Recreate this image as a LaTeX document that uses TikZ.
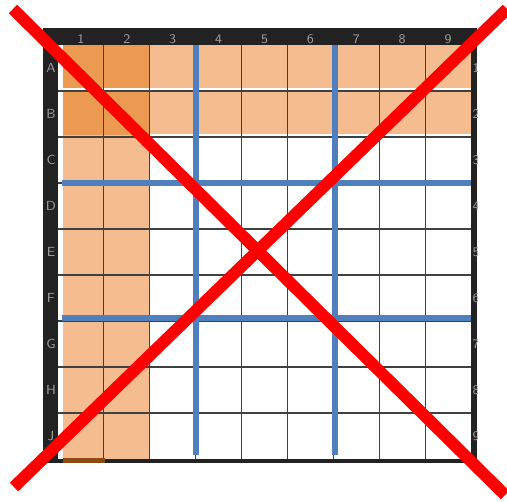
\documentclass[tikz,border=0pt]{standalone}
\usepackage{tikz}
\usetikzlibrary{positioning, calc}

\definecolor{framegray}{HTML}{222222}
\definecolor{lightorange}{HTML}{F4BC8F}
\definecolor{darkorange}{HTML}{EC9A52}
\definecolor{gridblue}{HTML}{4F7FBD}
\definecolor{labelgray}{HTML}{9A9A9A}
\definecolor{barbrown}{HTML}{8B4A14}

\tikzset{
  gridlabel/.style={text=labelgray, font=\sffamily\fontsize{7.5}{8}\selectfont, inner sep=0pt},
  thinline/.style={draw=black!75, line width=0.6pt},
  blueline/.style={draw=gridblue, line width=2.9pt},
  crossline/.style={draw=red, line width=6.8pt}
}

\begin{document}
\begin{tikzpicture}[x=0.02cm, y=-0.02cm]
        \useasboundingbox (0,0) rectangle (507,501);

        % ==========================================
        % FRAME: dark border round the board
        % ==========================================
        \fill[framegray] (43,28) rectangle (477,463);
        \fill[white] (58,45) rectangle (471,459);

        % ==========================================
        % SHADED CELLS
        % ==========================================
        % Rows A and B
        \fill[lightorange] (63,45) rectangle (471,135);
        % Columns 1 and 2
        \fill[lightorange] (63,45) rectangle (149,459);
        % Corner block
        \fill[darkorange] (63,45) rectangle (149,135);
        % White seams
        \draw[white, line width=1.2pt] (58,89) -- (471,89);
        \draw[white, line width=1.2pt] (149,135.5) -- (471,135.5);
        % Bar under column 1
        \fill[barbrown] (63,458) rectangle (105,463);

        % ==========================================
        % THIN GRID
        % ==========================================
        \foreach \k in {1,...,8} {
          \draw[thinline] ({58+45.9*\k},45) -- ({58+45.9*\k},459);
          \draw[thinline] (58,{45+46*\k}) -- (471,{45+46*\k});
        }

        % ==========================================
        % BLUE DIVIDERS
        % ==========================================
        \coordinate (vA top) at (196,45);
        \coordinate (vA bot) at (196,455);
        \coordinate (vB top) at (335,45);
        \coordinate (vB bot) at (335,455);
        \coordinate (hA left) at (62,183);
        \coordinate (hA right) at (471,183);
        \coordinate (hB left) at (62,318);
        \coordinate (hB right) at (471,318);
        \draw[blueline] (vA top) -- (vA bot);
        \draw[blueline] (vB top) -- (vB bot);
        \draw[blueline] (hA left) -- (hA right);
        \draw[blueline] (hB left) -- (hB right);

        % ==========================================
        % LABELS
        % ==========================================
        % Column numbers (top)
        \foreach \n in {1,...,9} {
          \node[gridlabel] (col\n) at ({58+45.9*\n-23},39) {\n};
        }
        % Row letters (left)
        \foreach \l [count=\i] in {A,B,C,D,E,F,G,H,J} {
          \node[gridlabel] (row\l) at (51,{45+46*\i-23}) {\l};
        }
        % Row numbers (right), cut by the frame edge
        \begin{scope}
          \clip (470,45) rectangle (477,459);
          \foreach \n in {1,...,9} {
            \node[gridlabel] (rnum\n) at (476,{45+46*\n-23}) {\n};
          }
        \end{scope}

        % ==========================================
        % RED CROSS
        % ==========================================
        \coordinate (crossTL) at (13,9);
        \coordinate (crossBR) at (505,495);
        \coordinate (crossBL) at (14,487);
        \coordinate (crossTR) at (507,9);
        \draw[crossline] (crossTL) -- (crossBR);
        \draw[crossline] (crossBL) -- (crossTR);

    \end{tikzpicture}
\end{document}
